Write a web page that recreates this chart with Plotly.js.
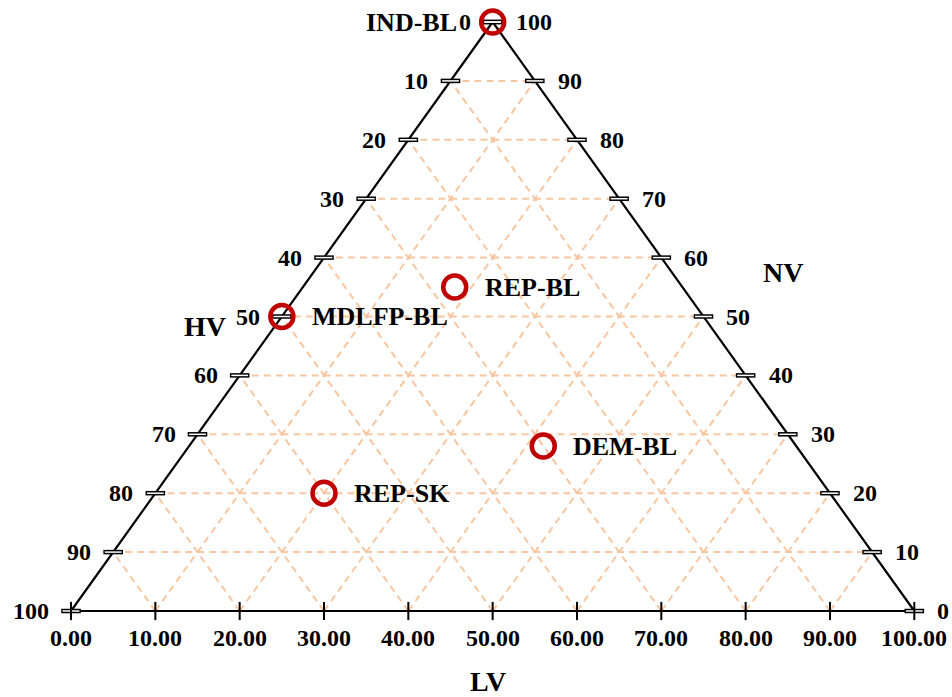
<!DOCTYPE html>
<html>
<head>
<meta charset="utf-8">
<script src="https://cdn.plot.ly/plotly-3.0.1.min.js"></script>
<style>html,body{margin:0;padding:0;background:#fff;}#chart{width:952px;height:697px;}</style>
</head>
<body>
<div id="chart"></div>
<script>
// ---- data ----
const pointNames = ['IND-BL', 'MDLFP-BL', 'REP-BL', 'DEM-BL', 'REP-SK'];
const lvValues = [0, 0, 18, 42, 20];
const hvValues = [0, 50, 27, 30, 60];
const nvValues = [100, 50, 55, 28, 20];
const tickValues = [0, 10, 20, 30, 40, 50, 60, 70, 80, 90, 100];
const bottomTickLabels = ['0.00','10.00','20.00','30.00','40.00','50.00','60.00','70.00','80.00','90.00','100.00'];
const axisTitles = {left: 'HV', right: 'NV', bottom: 'LV'};

// ternary (LV, HV, NV) -> cartesian (x along LV axis, y = NV height)
function tx(lv, hv, nv) { return lv + nv / 2; }
function ty(lv, hv, nv) { return nv; }

const FONT = 'Liberation Serif, Times New Roman, serif';
const GRID = 'rgb(248,198,160)';
const RED = 'rgb(192,0,0)';
const traces = [];

// grid lines
const gx = [], gy = [];
tickValues.slice(1, -1).forEach(k => {
  gx.push(tx(0, 100 - k, k), tx(100 - k, 0, k), null); gy.push(ty(0, 100 - k, k), ty(100 - k, 0, k), null);
  gx.push(tx(k, 100 - k, 0), tx(k, 0, 100 - k), null); gy.push(ty(k, 100 - k, 0), ty(k, 0, 100 - k), null);
  gx.push(tx(100 - k, k, 0), tx(0, k, 100 - k), null); gy.push(ty(100 - k, k, 0), ty(0, k, 100 - k), null);
});
traces.push({x: gx, y: gy, mode: 'lines', line: {color: GRID, width: 2, dash: '7px,5px'}, hoverinfo: 'skip'});

// triangle
traces.push({x: [tx(0,100,0), tx(100,0,0), tx(0,0,100), tx(0,100,0)],
             y: [ty(0,100,0), ty(100,0,0), ty(0,0,100), ty(0,100,0)],
             mode: 'lines', line: {color: 'black', width: 2.2}, hoverinfo: 'skip'});

// side ticks (hollow rectangles)
const sx = [], sy = [];
tickValues.forEach(h => { sx.push(tx(0, h, 100 - h)); sy.push(ty(0, h, 100 - h)); });
tickValues.forEach(n => { sx.push(tx(100 - n, 0, n)); sy.push(ty(100 - n, 0, n)); });
traces.push({x: sx, y: sy, mode: 'markers', marker: {symbol: 'line-ew', size: 14, line: {color: 'black', width: 4.5}}, hoverinfo: 'skip'});
traces.push({x: sx, y: sy, mode: 'markers', marker: {symbol: 'line-ew', size: 12, line: {color: 'white', width: 1.5}}, hoverinfo: 'skip'});
// bottom ticks
traces.push({x: tickValues.map(l => tx(l, 100 - l, 0)), y: tickValues.map(l => ty(l, 100 - l, 0)),
             mode: 'markers', marker: {symbol: 'line-ns', size: 13, line: {color: 'black', width: 2}}, hoverinfo: 'skip'});

// points
traces.push({x: pointNames.map((n, i) => tx(lvValues[i], hvValues[i], nvValues[i])),
             y: pointNames.map((n, i) => ty(lvValues[i], hvValues[i], nvValues[i])),
             mode: 'markers', marker: {symbol: 'circle-open', size: 23, color: RED, line: {color: RED, width: 4.5}},
             text: pointNames, hoverinfo: 'text'});

const ann = [];
const tickFont = {family: FONT, size: 24, color: 'black', weight: 'bold'};
tickValues.forEach(h => {
  ann.push({x: tx(0, h, 100 - h), y: ty(0, h, 100 - h), text: String(h), showarrow: false,
            xanchor: 'right', yanchor: 'middle', xshift: -20, font: tickFont});
});
tickValues.forEach(n => {
  ann.push({x: tx(100 - n, 0, n), y: ty(100 - n, 0, n), text: String(n), showarrow: false,
            xanchor: 'left', yanchor: 'middle', xshift: 21, font: tickFont});
});
tickValues.forEach((l, i) => {
  ann.push({x: tx(l, 100 - l, 0), y: ty(l, 100 - l, 0), text: bottomTickLabels[i], showarrow: false,
            xanchor: 'center', yanchor: 'middle', yshift: -27, font: tickFont});
});
pointNames.forEach((n, i) => {
  const left = i === 0;
  ann.push({x: tx(lvValues[i], hvValues[i], nvValues[i]), y: ty(lvValues[i], hvValues[i], nvValues[i]),
            text: n, showarrow: false, xanchor: left ? 'right' : 'left', yanchor: 'middle',
            xshift: left ? -34 : 28, font: {family: FONT, size: 26, color: 'black', weight: 'bold'}});
});
const titleFont = {family: FONT, size: 28, color: 'black', weight: 'bold'};
ann.push({xref: 'paper', yref: 'paper', x: 205 / 952, y: 1 - 326 / 697, text: axisTitles.left, showarrow: false, xanchor: 'center', yanchor: 'middle', font: titleFont});
ann.push({xref: 'paper', yref: 'paper', x: 783 / 952, y: 1 - 273 / 697, text: axisTitles.right, showarrow: false, xanchor: 'center', yanchor: 'middle', font: titleFont});
ann.push({xref: 'paper', yref: 'paper', x: 488 / 952, y: 0, text: axisTitles.bottom, showarrow: false, xanchor: 'center', yanchor: 'bottom', yshift: -2, font: titleFont});

const layout = {
  width: 952, height: 697,
  margin: {l: 0, r: 0, t: 0, b: 0},
  paper_bgcolor: 'white', plot_bgcolor: 'white',
  showlegend: false,
  xaxis: {range: [-8.42, 104.47], visible: false, fixedrange: true},
  yaxis: {range: [-14.60, 103.735], visible: false, fixedrange: true},
  annotations: ann
};
Plotly.newPlot('chart', traces, layout, {displayModeBar: false, staticPlot: true});
</script>
</body>
</html>
